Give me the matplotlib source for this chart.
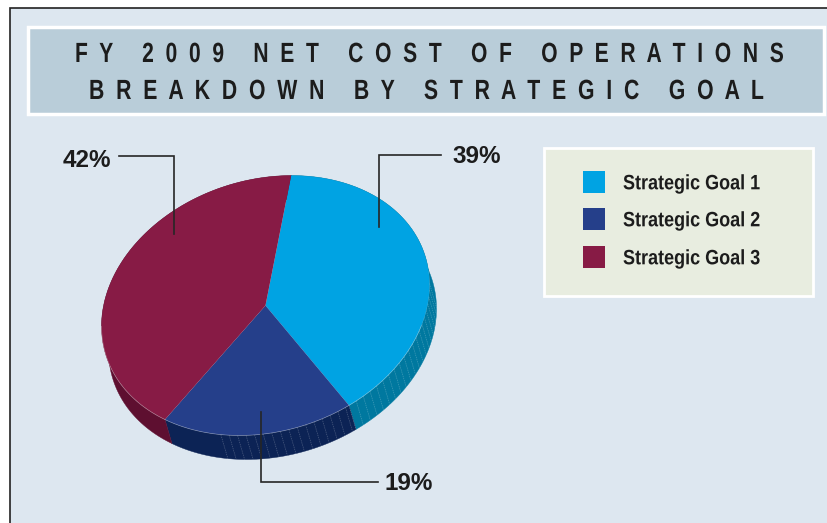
import numpy as np
import matplotlib
matplotlib.use("Agg")
import matplotlib.pyplot as plt
from matplotlib.patches import Rectangle
from matplotlib.patheffects import AbstractPathEffect
from matplotlib.transforms import Affine2D

categories = ["Strategic Goal 1", "Strategic Goal 2", "Strategic Goal 3"]
values = [39, 19, 42]
pct_labels = ["39%", "19%", "42%"]
title_lines = ["FY 2009 NET COST OF OPERATIONS", "BREAKDOWN BY STRATEGIC GOAL"]
top_colors = ["#00a3e3", "#253f8a", "#871b45"]
side_colors = ["#00789f", "#0c2355", "#5e0f30"]
stripe_skip = [0, 22, None]

W, H = 828, 523
fig = plt.figure(figsize=(W / 100, H / 100), dpi=100, facecolor="white")
ax = fig.add_axes([0, 0, 1, 1])


class Squeeze(AbstractPathEffect):
    """Scale a text's glyphs about a pixel anchor (baseline centre)."""

    def __init__(self, sx, sy, x0, y0):
        super().__init__()
        self.sx, self.sy, self.x0, self.y0 = sx, sy, x0, y0

    def draw_path(self, renderer, gc, tpath, affine, rgbFace=None):
        t = affine + (Affine2D().translate(-self.x0, -self.y0)
                      .scale(self.sx, self.sy).translate(self.x0, self.y0))
        renderer.draw_path(gc, tpath, t, rgbFace)


def fitted_text(x0, x1, y, s, fontsize, sy=1.0, **kw):
    """Real text scaled to span x0..x1 at baseline y."""
    xc = (x0 + x1) / 2
    t = ax.text(xc, y, s, ha="center", va="baseline", fontsize=fontsize, **kw)
    ext = t.get_window_extent(fig.canvas.get_renderer())
    t.set_path_effects([Squeeze((x1 - x0) / ext.width, sy, xc, H - y)])
    return t


cx, cy = 265.5, 305.5
mat = np.array([[164.0, 0.0], [-20.7, -128.3]])
dx, dy = 7.0, 24.0
pie_tf = Affine2D(np.array([[mat[0, 0], mat[0, 1], cx],
                            [mat[1, 0], mat[1, 1], cy],
                            [0, 0, 1]]))

wedges, _ = ax.pie(values, colors=top_colors, startangle=81, counterclock=False,
                   wedgeprops=dict(linewidth=0, zorder=4))
ax.set_aspect("auto")
ax.set_xlim(0, W)
ax.set_ylim(H, 0)
ax.set_position([0, 0, 1, 1])
ax.axis("off")
for w in wedges:
    w.set_transform(pie_tf + ax.transData)


def arc(t1, t2, n=120):
    t = np.radians(np.linspace(t1, t2, n))
    xy = mat @ np.vstack([np.cos(t), np.sin(t)])
    return xy[0] + cx, xy[1] + cy


for w, side, skip in zip(wedges, side_colors, stripe_skip):
    x, y = arc(w.theta1, w.theta2)
    ax.fill(np.r_[x, x[::-1] + dx], np.r_[y, y[::-1] + dy], color=side, lw=0.3, zorder=3)
    if skip is not None:
        for t in np.arange(w.theta1 + skip, w.theta2, 3.0):
            sx, sy = arc(t, t, 1)
            if sy[0] > cy - 25:
                ax.plot([sx[0], sx[0] + dx], [sy[0], sy[0] + dy], color="#ffffff",
                        lw=0.5, alpha=0.25, ls=(0, (2, 1.2)), zorder=3.5)
for w in wedges:
    x, y = arc(w.theta1, w.theta2)
    keep = y > cy + 20
    ax.plot(x[keep], y[keep], color="#ffffff", lw=0.5, alpha=0.35, zorder=4.5)

ax.add_patch(Rectangle((10.5, 8), W, H, fc="#dde7f0", ec="#222222", lw=1.2, zorder=0))
ax.add_patch(Rectangle((28.2, 27), 796, 86.5, fc="#b9cdd9", ec="white", lw=2.5, zorder=1))


def spaced(s):
    return "     ".join("  ".join(word) for word in s.split(" "))


for line, x0, x1, base in zip(title_lines, [75, 89], [783, 763], [62, 99]):
    fitted_text(x0, x1, base, spaced(line), 13, sy=20 / 13, fontweight="bold",
                color="#1c1c1c", family="Liberation Sans", zorder=6)

ax.add_patch(Rectangle((544.3, 148.3), 268.4, 147.4, fc="#e8ede0", ec="white", lw=2, zorder=1))
for cat, col, yy in zip(categories, top_colors, [182, 219, 257]):
    ax.add_patch(Rectangle((583, yy - 11), 22, 22, fc=col, ec="none", zorder=2))
    fitted_text(623, 761, yy + 7.3, cat, 15, fontweight="bold", color="#1c1c1c",
                family="Liberation Sans", zorder=6)

lc = "#262626"
ax.plot([441, 379, 379], [155, 155, 227], color=lc, lw=1.2, zorder=5, solid_joinstyle="miter")
ax.plot([378, 261, 261], [482, 482, 412], color=lc, lw=1.2, zorder=5, solid_joinstyle="miter")
ax.plot([119, 174, 174], [156, 156, 234], color=lc, lw=1.2, zorder=5, solid_joinstyle="miter")
lab_kw = dict(ha="center", va="baseline", fontsize=17.5, fontweight="bold", color="#1c1c1c",
              family="Liberation Sans", zorder=6)
ax.text(476.5, 163, pct_labels[0], **lab_kw)
ax.text(409, 489.5, pct_labels[1], **lab_kw)
ax.text(87, 167, pct_labels[2], **lab_kw)

fig.savefig("out.png", dpi=100, facecolor="white")
